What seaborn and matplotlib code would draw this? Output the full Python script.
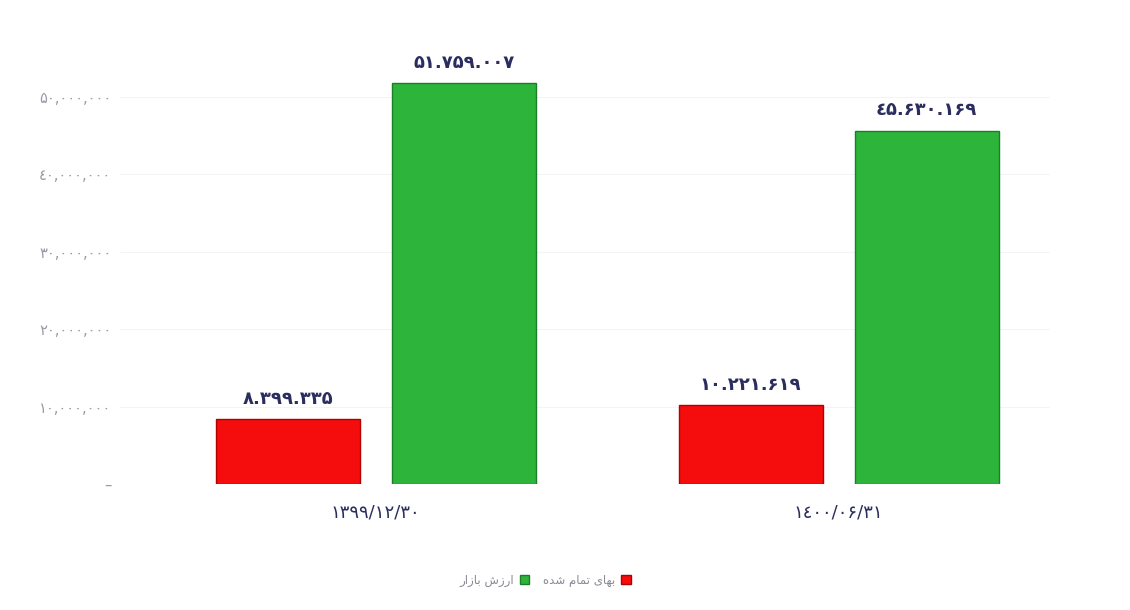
import matplotlib
matplotlib.use("Agg")
import matplotlib.pyplot as plt
import matplotlib.patches as mpatches
import seaborn as sns
import pandas as pd

# ---- data ----
dates = ["۱۳۹۹/۱۲/۳۰", "۱٤۰۰/۰۶/۳۱"]
cost_values = [8399335, 10221619]          # بهای تمام شده
market_values = [51759007, 45630169]       # ارزش بازار
cost_labels = ["۸.۳۹۹.۳۳۵", "۱۰.۲۲۱.۶۱۹"]
market_labels = ["۵۱.۷۵۹.۰۰۷", "٤۵.۶۳۰.۱۶۹"]
y_ticks = [0, 10000000, 20000000, 30000000, 40000000, 50000000]
y_tick_labels = ["–", "۱۰,۰۰۰,۰۰۰", "۲۰,۰۰۰,۰۰۰", "۳۰,۰۰۰,۰۰۰", "٤۰,۰۰۰,۰۰۰", "۵۰,۰۰۰,۰۰۰"]
# series names (logical) and their visually-ordered, pre-shaped forms for display
series_cost = "بهای تمام شده"
series_market = "ارزش بازار"
series_cost_display = "\uFEE9\uFEAA\uFEB7 \uFEE1\uFE8E\uFEE4\uFE97 \uFEEF\uFE8E\uFEEC\uFE91"
series_market_display = "\uFEAD\uFE8D\uFEAF\uFE8E\uFE91 \uFEB5\uFEAF\uFEAD\uFE8D"

red = "#f50d0d"
green = "#2db43b"

df = pd.DataFrame({
    "date": dates * 2,
    "series": [series_cost] * 2 + [series_market] * 2,
    "value": cost_values + market_values,
})

sns.set_theme(style="white")
plt.rcParams["font.family"] = ["DejaVu Sans"]

fig = plt.figure(figsize=(11.3, 6.1), dpi=100)
ax = fig.add_axes([0.106, 0.2066, 0.823, 0.6984])

sns.barplot(data=df, x="date", y="value", hue="series", order=dates,
            hue_order=[series_cost, series_market],
            palette={series_cost: red, series_market: green},
            width=0.76, gap=0.18, ax=ax, legend=False, errorbar=None,
            saturation=1)

edge = {0: "#b00000", 1: "#1a7f26"}
for i, cont in enumerate(ax.containers):
    for p in cont:
        p.set_edgecolor(edge[i])
        p.set_linewidth(1.0)
    labels = cost_labels if i == 0 else market_labels
    ax.bar_label(cont, labels=labels, padding=8, fontsize=13,
                 fontweight="bold", color="#2b2d5e")

ax.set_xlim(-0.553, 1.456)
ax.set_ylim(0, 55000000)
ax.set_yticks(y_ticks)
ax.set_yticklabels(y_tick_labels, fontsize=10.5, color="#9a9aa8")
ax.tick_params(axis="x", labelsize=13, labelcolor="#2b2d5e", length=0, pad=14)
ax.tick_params(axis="y", length=0, pad=6)
ax.set_xlabel("")
ax.set_ylabel("")
ax.yaxis.grid(True, color="#f4f4f4", linewidth=0.8)
ax.set_axisbelow(True)
for s in ax.spines.values():
    s.set_visible(False)

handles = [mpatches.Patch(facecolor=green, edgecolor="#1a7f26"),
           mpatches.Patch(facecolor=red, edgecolor="#b00000")]
fig.legend(handles, [series_market_display, series_cost_display],
           loc="center", bbox_to_anchor=(545 / 1130, 1 - 580 / 610),
           ncol=2, frameon=False, markerfirst=False, fontsize=8.5,
           labelcolor="#8a8a95", handlelength=0.8, handleheight=0.8,
           columnspacing=1.2, handletextpad=0.5)

fig.savefig("out.png", dpi=100)
